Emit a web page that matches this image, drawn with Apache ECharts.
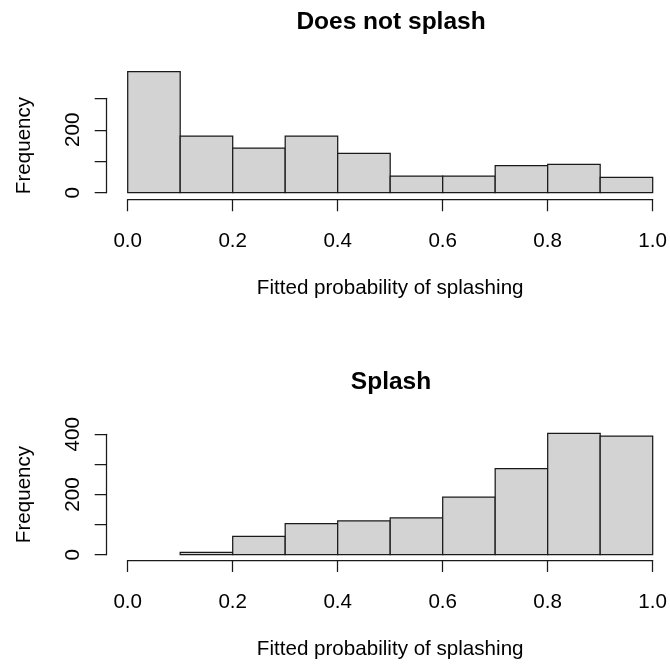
<!DOCTYPE html>
<html>
<head>
<meta charset="utf-8">
<script src="https://cdn.jsdelivr.net/npm/echarts@6/dist/echarts.min.js"></script>
<style>
  html, body { margin: 0; padding: 0; background: #fff; }
  #main { width: 670px; height: 666px; }
</style>
</head>
<body>
<div id="main"></div>
<script>
var breaks = [0, 0.1, 0.2, 0.3, 0.4, 0.5, 0.6, 0.7, 0.8, 0.9, 1.0];
var noSplashCounts = [385, 180, 142, 180, 125, 53, 53, 86, 90, 49];
var splashCounts = [0, 8, 61, 103, 112, 122, 191, 286, 403, 394];
var panelTitles = ['Does not splash', 'Splash'];
var xLabel = 'Fitted probability of splashing';
var yLabel = 'Frequency';

var FONT = 'Liberation Sans, Arial, Helvetica, sans-serif';
var INK = '#1a1a1a';
var FS = 20.6;

// histogram bins as [from, to, count]; empty bins are not drawn
function bins(counts) {
  var out = [];
  for (var i = 0; i < counts.length; i++) {
    if (counts[i] > 0) out.push([breaks[i], breaks[i + 1], counts[i]]);
  }
  return out;
}

function renderBin(params, api) {
  var p0 = api.coord([api.value(0), api.value(2)]);
  var p1 = api.coord([api.value(1), 0]);
  return {
    type: 'rect',
    shape: { x: p0[0], y: p0[1], width: p1[0] - p0[0], height: p1[1] - p0[1] },
    style: { fill: '#d3d3d3', stroke: INK, lineWidth: 1.25 }
  };
}

function xAxisFor(gi, off) {
  return {
    type: 'value', gridIndex: gi, min: 0, max: 1, interval: 0.2,
    offset: off,
    axisLine: { show: true, onZero: false, lineStyle: { color: INK, width: 1.25 } },
    axisTick: { show: true, length: 12, lineStyle: { color: INK, width: 1.25 } },
    axisLabel: { color: '#000', fontSize: FS, fontFamily: FONT, margin: 32,
      formatter: function (v) { return v.toFixed(1); } },
    splitLine: { show: false },
    name: xLabel, nameLocation: 'middle', nameGap: 79,
    nameTextStyle: { color: '#000', fontSize: FS, fontFamily: FONT }
  };
}

function yAxisFor(gi, max) {
  return {
    type: 'value', gridIndex: gi, min: 0, max: max, interval: 100,
    offset: 21,
    axisLine: { show: true, onZero: false, lineStyle: { color: INK, width: 1.25 } },
    axisTick: { show: true, length: 12, lineStyle: { color: INK, width: 1.25 } },
    axisLabel: { color: '#000', fontSize: FS, fontFamily: FONT, margin: 23,
      rotate: 90, align: 'center', verticalAlign: 'bottom',
      formatter: function (v) { return v % 200 === 0 ? String(v) : ''; } },
    splitLine: { show: false },
    name: yLabel, nameLocation: 'middle', nameGap: 72, nameRotate: 90,
    nameTextStyle: { color: '#000', fontSize: FS, fontFamily: FONT }
  };
}

var myChart = echarts.init(document.getElementById('main'));

var option = {
  backgroundColor: '#fff',
  animation: false,
  title: [
    { text: panelTitles[0], left: 386, top: 5, textAlign: 'center',
      textStyle: { fontSize: 24.5, fontWeight: 'bold', color: '#000', fontFamily: FONT } },
    { text: panelTitles[1], left: 386, top: 365, textAlign: 'center',
      textStyle: { fontSize: 24.5, fontWeight: 'bold', color: '#000', fontFamily: FONT } }
  ],
  grid: [
    { left: 127.7, right: 17, top: 98.3, height: 94.4 },
    { left: 127.7, right: 17, top: 434.3, height: 120.4 }
  ],
  xAxis: [xAxisFor(0, 6.6), xAxisFor(1, 5.3)],
  yAxis: [yAxisFor(0, 300), yAxisFor(1, 400)],
  series: [
    { type: 'custom', xAxisIndex: 0, yAxisIndex: 0, clip: false,
      renderItem: renderBin, encode: { x: [0, 1], y: 2 }, data: bins(noSplashCounts) },
    { type: 'custom', xAxisIndex: 1, yAxisIndex: 1, clip: false,
      renderItem: renderBin, encode: { x: [0, 1], y: 2 }, data: bins(splashCounts) }
  ]
};

myChart.setOption(option);
</script>
</body>
</html>
